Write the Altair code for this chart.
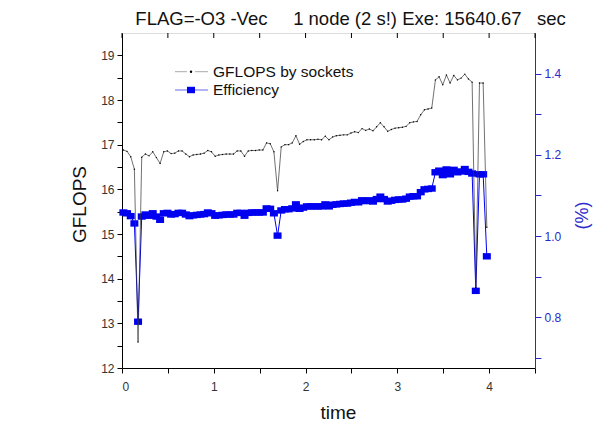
import altair as alt
import pandas as pd

FONT = "Liberation Sans, Arial, sans-serif"
BLUE = "#0000f0"
AXBLUE = "#2a2acc"

# sampling times (h)
time = [
    0.015, 0.055, 0.095, 0.135, 0.175, 0.215, 0.255, 0.295, 0.335, 0.375,
    0.415, 0.455, 0.495, 0.535, 0.575, 0.615, 0.655, 0.695, 0.735, 0.775,
    0.815, 0.855, 0.895, 0.935, 0.975, 1.015, 1.055, 1.095, 1.135, 1.175,
    1.215, 1.255, 1.295, 1.335, 1.375, 1.415, 1.455, 1.495, 1.535, 1.575,
    1.615, 1.655, 1.695, 1.735, 1.775, 1.815, 1.855, 1.895, 1.935, 1.975,
    2.015, 2.055, 2.095, 2.135, 2.175, 2.215, 2.255, 2.295, 2.335, 2.375,
    2.415, 2.455, 2.495, 2.535, 2.575, 2.615, 2.655, 2.695, 2.735, 2.775,
    2.815, 2.855, 2.895, 2.935, 2.975, 3.015, 3.055, 3.095, 3.135, 3.175,
    3.215, 3.255, 3.295, 3.335, 3.375, 3.415, 3.455, 3.495, 3.535, 3.575,
    3.615, 3.655, 3.695, 3.735, 3.775, 3.815, 3.855, 3.895, 3.935, 3.975,
]

gflops = [
    16.88, 16.85, 16.73, 16.45, 12.58, 16.72, 16.79, 16.75, 16.84, 16.71,
    16.58, 16.84, 16.86, 16.80, 16.81, 16.86, 16.86, 16.79, 16.73, 16.77,
    16.78, 16.79, 16.81, 16.87, 16.84, 16.74, 16.77, 16.78, 16.79, 16.79,
    16.79, 16.86, 16.86, 16.74, 16.86, 16.87, 16.87, 16.88, 16.88, 17.04,
    17.02, 16.84, 15.97, 16.95, 17.00, 17.00, 17.04, 17.20, 17.01, 17.07,
    17.11, 17.11, 17.11, 17.12, 17.11, 17.19, 17.11, 17.17, 17.20, 17.21,
    17.22, 17.22, 17.26, 17.29, 17.27, 17.36, 17.32, 17.35, 17.31, 17.40,
    17.49, 17.40, 17.30, 17.34, 17.37, 17.38, 17.39, 17.41, 17.49, 17.51,
    17.52, 17.67, 17.78, 17.80, 17.82, 18.45, 18.52, 18.34, 18.56, 18.38,
    18.55, 18.45, 18.49, 18.58, 18.47, 18.40, 13.80, 18.38, 18.38, 15.15,
]

efficiency = [
    1.058, 1.056, 1.049, 1.031, 0.789, 1.048, 1.053, 1.050, 1.056, 1.048,
    1.040, 1.056, 1.057, 1.053, 1.054, 1.057, 1.057, 1.053, 1.049, 1.051,
    1.052, 1.053, 1.054, 1.058, 1.056, 1.050, 1.051, 1.052, 1.053, 1.053,
    1.053, 1.057, 1.057, 1.050, 1.057, 1.058, 1.058, 1.058, 1.058, 1.068,
    1.067, 1.056, 1.001, 1.063, 1.066, 1.066, 1.068, 1.078, 1.067, 1.070,
    1.073, 1.073, 1.073, 1.073, 1.073, 1.078, 1.073, 1.077, 1.078, 1.079,
    1.080, 1.080, 1.082, 1.084, 1.083, 1.088, 1.086, 1.088, 1.085, 1.091,
    1.097, 1.091, 1.085, 1.087, 1.089, 1.090, 1.090, 1.092, 1.097, 1.098,
    1.098, 1.108, 1.115, 1.116, 1.117, 1.157, 1.161, 1.150, 1.164, 1.152,
    1.163, 1.157, 1.159, 1.165, 1.158, 1.154, 0.865, 1.152, 1.152, 0.950,
]

x_ticks = [0, 0.5, 1, 1.5, 2, 2.5, 3, 3.5, 4, 4.5]
y_ticks = [12, 12.5, 13, 13.5, 14, 14.5, 15, 15.5, 16, 16.5, 17, 17.5, 18, 18.5, 19]
eff_ticks = [0.7, 0.8, 0.9, 1.0, 1.1, 1.2, 1.3, 1.4]
legend_labels = ["GFLOPS by sockets", "Efficiency"]
title_text = "FLAG=-O3 -Vec" + "\u00a0" * 5 + "1 node (2 s!) Exe: 15640.67" + "\u00a0" * 3 + "sec"

df = pd.DataFrame({"time": time, "gflops": gflops, "eff": efficiency})

W, H = 413, 335

x_enc = alt.X(
    "time:Q",
    scale=alt.Scale(domain=[0, 4.5], nice=False, zero=False),
    axis=alt.Axis(
        values=x_ticks,
        labelExpr="datum.value % 1 == 0 ? datum.value : ''",
        title="time",
        titleFontSize=19,
        titleFont=FONT,
        titleFontWeight="normal",
        titleColor="#111",
        titleX=216,
        titleY=50,
        titleAlign="center",
        titleBaseline="alphabetic",
        labelFont=FONT,
        labelFontSize=12,
        labelColor="#333",
        labelPadding=8,
        tickSize=5,
        tickColor="#000",
        domainColor="#000",
        grid=False,
    ),
)

y_left = alt.Y(
    "gflops:Q",
    scale=alt.Scale(domain=[12, 19.5], nice=False, zero=False),
    axis=alt.Axis(
        orient="left",
        values=y_ticks,
        labelExpr="datum.value % 1 == 0 ? format(datum.value, 'd') : ''",
        title="GFLOPS",
        titleFontSize=19,
        titleFont=FONT,
        titleFontWeight="normal",
        titleColor="#111",
        titleX=-43,
        titleY=171,
        titleAlign="center",
        titleBaseline="middle",
        titleAngle=270,
        labelFont=FONT,
        labelFontSize=12,
        labelColor="#333",
        labelPadding=3,
        tickSize=5,
        tickColor="#000",
        domainColor="#000",
        grid=False,
    ),
)

y_right = alt.Y(
    "eff:Q",
    scale=alt.Scale(domain=[0.675, 1.5], nice=False, zero=False),
    axis=alt.Axis(
        orient="right",
        values=eff_ticks,
        labelExpr="round(datum.value * 10) % 2 == 0 ? format(datum.value, '.1f') : ''",
        title="(%)",
        titleFontSize=18,
        titleFont=FONT,
        titleFontWeight="normal",
        titleColor=AXBLUE,
        titleX=47,
        titleY=182,
        titleAlign="center",
        titleBaseline="middle",
        titleAngle=270,
        labelFont=FONT,
        labelFontSize=12,
        labelColor=AXBLUE,
        labelPadding=3,
        tickSize=6,
        tickColor=AXBLUE,
        domainColor=AXBLUE,
        grid=False,
    ),
)

base = alt.Chart(df)

g_line = base.mark_line(color="#333", strokeWidth=0.7).encode(x=x_enc, y=y_left)
g_pts = base.mark_circle(color="#000", size=2, opacity=1).encode(x=x_enc, y=y_left)
left = alt.layer(g_line, g_pts)

rect = "M-1,-0.8H1V0.8H-1Z"
e_line = base.mark_line(color=BLUE, strokeWidth=1).encode(x=x_enc, y=y_right)
e_pts = base.mark_point(shape=rect, filled=True, size=64, color=BLUE, opacity=1).encode(x=x_enc, y=y_right)
right = alt.layer(e_line, e_pts)

# top frame ticks
tick_df = pd.DataFrame({"time": x_ticks})
top_ticks = alt.Chart(tick_df).mark_rule(color="#000", strokeWidth=1).encode(
    x=x_enc, y=alt.value(0), y2=alt.value(5)
)

# title as text
t_df = pd.DataFrame({"label": [title_text]})
title_mark = alt.Chart(t_df).mark_text(
    align="center", baseline="alphabetic", font=FONT, fontSize=18.5, color="#111"
).encode(x=alt.value(228.5), y=alt.value(-8), text="label:N")

# legend
l1 = pd.DataFrame({"label": [legend_labels[0]]})
l2 = pd.DataFrame({"label": [legend_labels[1]]})
ly1, ly2 = 38.7, 57
leg = [
    alt.Chart(l1).mark_rule(color="#aaa", strokeWidth=1).encode(x=alt.value(53), x2=alt.value(65), y=alt.value(ly1)),
    alt.Chart(l1).mark_rule(color="#aaa", strokeWidth=1).encode(x=alt.value(73), x2=alt.value(86), y=alt.value(ly1)),
    alt.Chart(l1).mark_circle(color="#000", size=6, opacity=1).encode(x=alt.value(69), y=alt.value(ly1)),
    alt.Chart(l1).mark_text(align="left", baseline="middle", font=FONT, fontSize=15.5, color="#111").encode(
        x=alt.value(91), y=alt.value(ly1), text="label:N"),
    alt.Chart(l2).mark_rule(color="#6666ee", strokeWidth=1).encode(x=alt.value(53), x2=alt.value(65), y=alt.value(ly2)),
    alt.Chart(l2).mark_rule(color="#6666ee", strokeWidth=1).encode(x=alt.value(73), x2=alt.value(86), y=alt.value(ly2)),
    alt.Chart(l2).mark_point(shape=rect, filled=True, size=64, color=BLUE, opacity=1).encode(x=alt.value(69), y=alt.value(ly2)),
    alt.Chart(l2).mark_text(align="left", baseline="middle", font=FONT, fontSize=15.5, color="#111").encode(
        x=alt.value(91), y=alt.value(ly2), text="label:N"),
]

chart = alt.layer(right, left, top_ticks, title_mark, *leg).resolve_scale(y="independent").properties(
    width=W,
    height=H,
    autosize=alt.AutoSizeParams(type="none"),
    padding={"left": 114, "top": 25, "right": 70, "bottom": 65},
).configure_view(stroke="#000", strokeWidth=1).configure(background="white")

chart.save("out.html", embed_options={"renderer": "svg", "actions": False})
